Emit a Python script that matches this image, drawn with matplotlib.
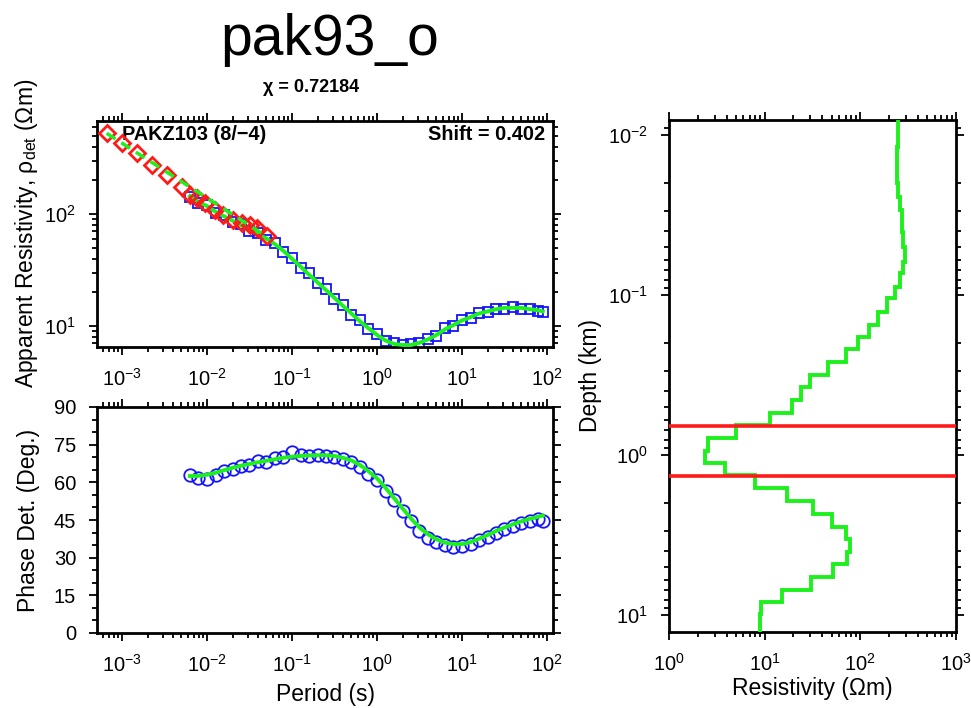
import matplotlib
matplotlib.use("Agg")
import matplotlib.pyplot as plt
from matplotlib.ticker import LogLocator, NullFormatter, MultipleLocator

plt.rcParams['font.family'] = ['Liberation Sans', 'DejaVu Sans']
plt.rcParams['mathtext.fontset'] = 'custom'
plt.rcParams['mathtext.rm'] = 'Liberation Sans'
plt.rcParams['mathtext.it'] = 'Liberation Sans:italic'
plt.rcParams['mathtext.bf'] = 'Liberation Sans:bold'

# ---------------- data ----------------
title = "pak93_o"
chi_text = "χ = 0.72184"
station = "PAKZ103 (8/\u22124)"
shift_text = "Shift = 0.402"

# red diamonds (high-frequency apparent resistivity)
red_period = [0.00066, 0.00099, 0.00149, 0.00224, 0.00336, 0.00504, 0.00631, 0.00759,
              0.00946, 0.0124, 0.0156, 0.0204, 0.0256, 0.0321, 0.0385, 0.0504]
red_rho = [525, 428, 348, 274, 223, 175, 148, 138, 125, 109, 98, 88.3, 82.6, 79.8, 74.5, 63.7]
red_model_period = [0.00066, 0.0021, 0.0063, 0.02, 0.05]
red_model_rho = [525, 298, 174, 99, 63]

# blue data (apparent resistivity + phase)
period = [0.0063, 0.0079, 0.0100, 0.0126, 0.0158, 0.0200, 0.0251, 0.0316, 0.0398, 0.0501,
          0.0631, 0.0794, 0.100, 0.126, 0.158, 0.200, 0.251, 0.316, 0.398, 0.501,
          0.631, 0.794, 1.00, 1.26, 1.58, 2.00, 2.51, 3.16, 3.98, 5.01,
          6.31, 7.94, 10.0, 12.6, 15.8, 20.0, 25.1, 31.6, 39.8, 50.1,
          63.1, 79.4, 89.1]
rho_data = [141, 126, 119, 101, 97, 85, 81, 70, 67, 58,
            55, 46, 40.5, 33, 29.5, 24, 21.3, 17.5, 15.4, 12.6,
            11.2, 9.4, 8.4, 7.3, 7.0, 6.7, 6.85, 7.0, 7.7, 8.2,
            9.5, 10.0, 11.4, 11.8, 13.1, 13.3, 14.3, 14.2, 14.8, 14.3,
            14.2, 13.6, 13.2]
rho_model = [144.5, 128.8, 117.5, 104.7, 95.5, 87.1, 79.4, 72.4, 66.1, 60.3,
             53.7, 46.8, 39.8, 33.9, 28.8, 24.5, 20.9, 17.8, 15.1, 12.9,
             11.0, 9.55, 8.32, 7.41, 6.92, 6.76, 6.76, 7.08, 7.59, 8.32,
             9.33, 10.2, 11.2, 12.0, 12.9, 13.5, 14.1, 14.5, 14.5, 14.5,
             14.1, 13.8, 13.5]
phase_data = [63.0, 61.8, 61.2, 62.8, 64.5, 65.5, 66.4, 67.0, 68.3, 68.2,
              69.5, 70.0, 72.0, 71.0, 70.4, 71.0, 70.5, 70.0, 69.2, 68.0,
              66.2, 63.2, 61.0, 56.5, 53.0, 48.5, 44.8, 40.5, 38.0, 36.2,
              35.0, 34.3, 34.8, 35.5, 37.0, 38.2, 40.0, 41.3, 42.6, 43.8,
              44.6, 45.2, 44.5]
phase_model = [62.5, 62.6, 63.0, 63.8, 64.8, 65.8, 66.6, 67.3, 68.0, 68.6,
               69.2, 69.8, 70.2, 70.5, 70.7, 70.8, 70.8, 70.5, 69.8, 68.7,
               66.9, 64.4, 61.6, 57.8, 53.8, 49.6, 45.6, 42.0, 39.3, 37.3,
               36.0, 35.4, 35.4, 36.2, 37.5, 39.0, 40.6, 42.0, 43.3, 44.5,
               45.5, 46.3, 46.8]

# layered resistivity model (depth edges in km, resistivity in ohm-m)
depth_edges = [0.00806, 0.01183, 0.02005, 0.02425, 0.02944, 0.04018, 0.04989, 0.06194,
               0.07328, 0.08872, 0.1050, 0.1271, 0.1540, 0.1841, 0.2188, 0.2637,
               0.3162, 0.3776, 0.4529, 0.5432, 0.6494, 0.7870, 0.9397, 1.117,
               1.334, 1.616, 1.928, 2.339, 2.805, 3.350, 4.018, 4.799, 5.818,
               6.982, 8.260, 9.862, 12.71]
layer_rho = [249.5, 239.8, 249.5, 260, 270, 281, 293, 281, 260, 230, 188, 154,
             124, 95.3, 70.8, 46.3, 29.8, 23.8, 19.2, 11.4, 5.01, 2.58, 2.38, 3.85,
             7.92, 17.3, 31.8, 51.0, 70.8, 78.0, 71.9, 52.2, 30.3, 15.1, 9.08, 8.94]
red_lines_depth = [0.66, 1.35]

# ---------------- style ----------------
BLUE = '#1414ff'
RED = '#ff1a1a'
GREEN = '#1ef01e'
W, H = 971, 708
fig = plt.figure(figsize=(W / 100, H / 100), dpi=100)


def rect(x0, y0, x1, y1):
    return [x0 / W, 1 - y1 / H, (x1 - x0) / W, (y1 - y0) / H]


def style(ax):
    for s in ax.spines.values():
        s.set_linewidth(2.0)
    ax.tick_params(which='both', direction='out', top=True, right=True,
                   labeltop=False, labelright=False, width=1.3, labelsize=14.5, pad=9)
    ax.tick_params(which='major', length=6)
    ax.tick_params(which='minor', length=3.5)


ax1 = fig.add_axes(rect(97, 121, 553, 347))
ax2 = fig.add_axes(rect(97, 407, 553, 633))
ax3 = fig.add_axes(rect(669, 120, 956, 632))

xlim = (0.000508, 117.7)
minor_subs = [2, 3, 4, 5, 6, 7, 8, 9]

# apparent resistivity
ax1.set_xscale('log')
ax1.set_yscale('log')
ax1.plot(period, rho_data, ls='none', marker='s', ms=7.5, mfc='none', mec=BLUE, mew=1.3, zorder=2)
ax1.plot(period, rho_model, color=GREEN, lw=2.8, zorder=3)
ax1.plot(red_period, red_rho, ls='none', marker='D', ms=8.5, mfc='none', mec=RED, mew=2.0, zorder=4)
ax1.plot(red_model_period, red_model_rho, color=GREEN, lw=2.5, dashes=(3, 2), zorder=5)
ax1.set_xlim(*xlim)
ax1.set_ylim(6.49, 676)
ax1.xaxis.set_major_locator(LogLocator(base=10, numticks=20))
ax1.xaxis.set_minor_locator(LogLocator(base=10, subs=minor_subs, numticks=40))
ax1.xaxis.set_minor_formatter(NullFormatter())
ax1.yaxis.set_minor_locator(LogLocator(base=10, subs=minor_subs, numticks=40))
ax1.yaxis.set_minor_formatter(NullFormatter())
style(ax1)
ax1.text(0.055, 0.94, station, transform=ax1.transAxes, fontsize=14.3, fontweight='bold',
         ha='left', va='center')
ax1.text(0.983, 0.94, shift_text, transform=ax1.transAxes, fontsize=14.3, fontweight='bold',
         ha='right', va='center')

# phase
ax2.set_xscale('log')
ax2.plot(period, phase_data, ls='none', marker='o', ms=9, mfc='none', mec=BLUE, mew=1.3, zorder=2)
ax2.plot(period, phase_model, color=GREEN, lw=2.8, zorder=3)
ax2.set_xlim(*xlim)
ax2.set_ylim(0, 90)
ax2.yaxis.set_major_locator(MultipleLocator(15))
ax2.yaxis.set_minor_locator(MultipleLocator(5))
ax2.xaxis.set_major_locator(LogLocator(base=10, numticks=20))
ax2.xaxis.set_minor_locator(LogLocator(base=10, subs=minor_subs, numticks=40))
ax2.xaxis.set_minor_formatter(NullFormatter())
style(ax2)

# resistivity model
ax3.set_xscale('log')
ax3.set_yscale('log')
ax3.stairs(layer_rho, depth_edges, orientation='horizontal', baseline=None,
           color=GREEN, lw=2.8, zorder=3)
for d in red_lines_depth:
    ax3.axhline(d, color=RED, lw=2.6, zorder=4)
ax3.set_xlim(1, 1000)
ax3.set_ylim(12.76, 0.00806)
ax3.xaxis.set_major_locator(LogLocator(base=10, numticks=20))
ax3.xaxis.set_minor_locator(LogLocator(base=10, subs=minor_subs, numticks=40))
ax3.xaxis.set_minor_formatter(NullFormatter())
ax3.yaxis.set_major_locator(LogLocator(base=10, numticks=20))
ax3.yaxis.set_minor_locator(LogLocator(base=10, subs=minor_subs, numticks=40))
ax3.yaxis.set_minor_formatter(NullFormatter())
style(ax3)

# labels and titles


def ftext(x, y, s, **kw):
    fig.text(x / W, 1 - y / H, s, ha='center', va='center', **kw)


ftext(330, 40, title, fontsize=41)
ftext(311, 87, chi_text, fontsize=13, fontweight='bold')
ftext(27, 233, r'Apparent Resistivity, ρ$_{\mathrm{det}}$ (Ωm)', fontsize=16.5, rotation=90)
ftext(29, 520, 'Phase Det. (Deg.)', fontsize=16.5, rotation=90)
ftext(325, 694, 'Period (s)', fontsize=16.5)
ftext(591, 376, 'Depth (km)', fontsize=16.5, rotation=90)
ftext(812, 688, 'Resistivity (Ωm)', fontsize=16.5)

fig.savefig('out.png', dpi=100)
